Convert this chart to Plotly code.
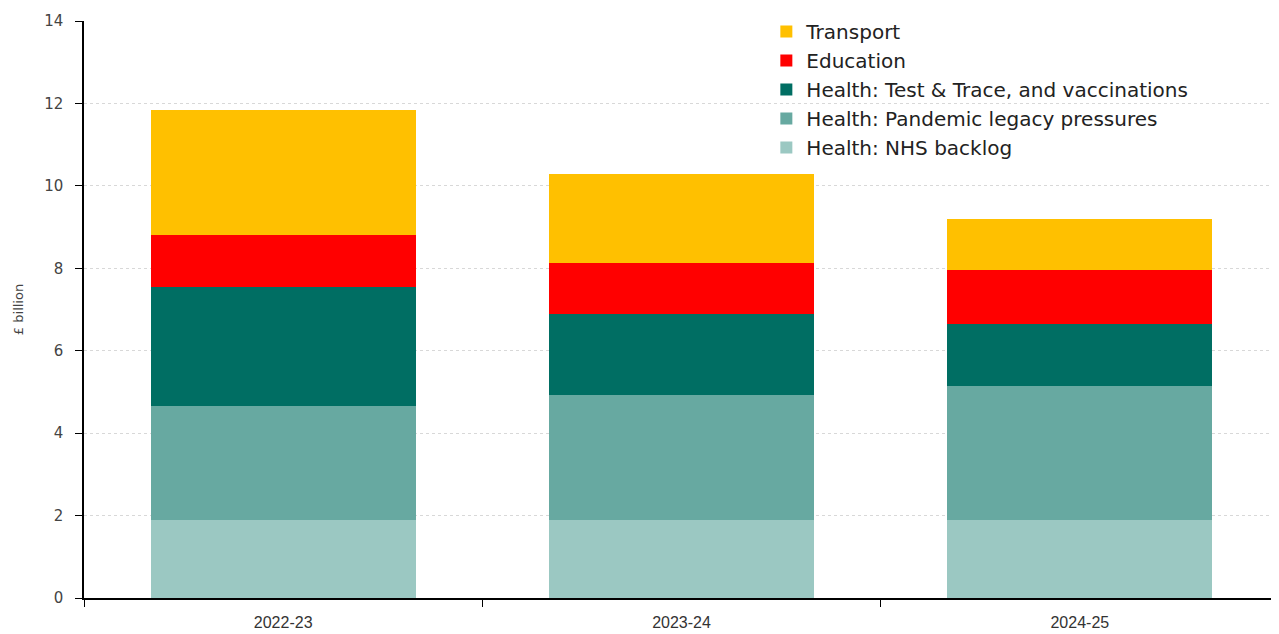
import plotly.graph_objects as go

years = ["2022-23", "2023-24", "2024-25"]
nhs_backlog = [1.9, 1.9, 1.9]
pandemic_legacy = [2.76, 3.03, 3.25]
test_trace = [2.89, 1.96, 1.5]
education = [1.26, 1.24, 1.31]
transport = [3.03, 2.16, 1.24]

series = [
    ("Health: NHS backlog", nhs_backlog, "#9BC8C2"),
    ("Health: Pandemic legacy pressures", pandemic_legacy, "#67A9A1"),
    ("Health: Test & Trace, and vaccinations", test_trace, "#006E63"),
    ("Education", education, "#FF0000"),
    ("Transport", transport, "#FFC000"),
]

fig = go.Figure()
for name, vals, col in series:
    fig.add_trace(go.Bar(x=years, y=vals, name=name, marker=dict(color=col, line=dict(width=0))))

fig.update_layout(
    barmode="stack",
    bargap=0.335,
    width=1271, height=626,
    margin=dict(l=76, r=0, t=13, b=36, autoexpand=False),
    paper_bgcolor="white", plot_bgcolor="white",
    font=dict(family="DejaVu Sans", color="#333333"),
    showlegend=True,
    legend=dict(
        x=0.571, y=1.0156, xanchor="left", yanchor="top",
        traceorder="reversed", bgcolor="rgba(0,0,0,0)",
        font=dict(family="DejaVu Sans", size=20, color="#222222"),
        tracegroupgap=0, itemwidth=30,
    ),
    xaxis=dict(
        automargin=False,
        showline=True, linecolor="#000000", linewidth=1.5,
        ticks="outside", tickson="boundaries", ticklen=7, tickcolor="#000000",
        tickfont=dict(family="Liberation Sans", size=16, color="#333333"),
        ticklabelstandoff=9,
        showgrid=False,
    ),
    yaxis=dict(
        automargin=False,
        range=[0, 14], dtick=2,
        showline=True, linecolor="#000000", linewidth=1.5,
        ticks="outside", ticklen=7, tickcolor="#000000",
        tickfont=dict(family="DejaVu Sans", size=15, color="#444444"),
        ticklabelstandoff=9,
        showgrid=True, gridcolor="#D8D8D8", griddash="dot", gridwidth=1,
        zeroline=False,
        title=dict(text="£ billion", font=dict(size=13, color="#444444"), standoff=18),
    ),
)

fig.write_html("out.html")
